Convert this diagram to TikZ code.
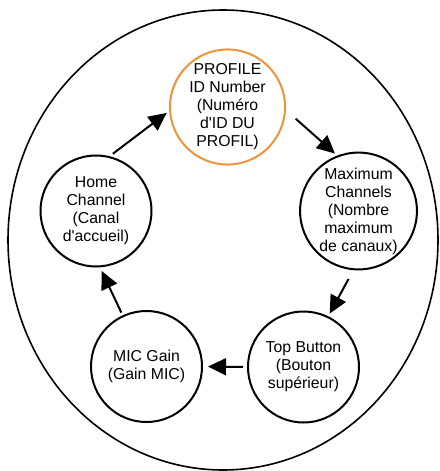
\documentclass[tikz,border=0pt]{standalone}
\usepackage{fontspec}
\setmainfont{Liberation Sans}
\usetikzlibrary{positioning, arrows.meta}
\definecolor{profileOrange}{HTML}{F0923A}

\begin{document}
\begin{tikzpicture}[
    x=1pt, y=-1pt,
    >={Triangle[length=18pt,width=17pt]},
    stage/.style={circle, draw=black, line width=2pt, minimum size=111pt, inner sep=0pt, align=center, font=\fontsize{15.8}{18}\selectfont},
    every edge/.style={draw=black, line width=2pt}
]
    \useasboundingbox (0,0) rectangle (439,471);
    \draw[line width=1.6pt] (223,240) ellipse [x radius=215, y radius=230];

    \node[stage, draw=profileOrange] (P) at (227.5,107) {PROFILE\\ID Number\\(Numéro\\d\textquotesingle ID DU\\PROFIL)};
    \node[stage] (MC) at (358.5,211) {Maximum\\Channels\\(Nombre\\maximum\\de canaux)};
    \node[stage] (TB) at (303.5,367) {Top Button\\(Bouton\\supérieur)};
    \node[stage] (MG) at (146.5,366.5) {MIC Gain\\(Gain MIC)};
    \node[stage] (HC) at (96,211) {Home\\Channel\\(Canal\\d\textquotesingle accueil)};

    % cycle of settings
    \path[->] (HC.76) edge[shorten <=4pt, shorten >=3pt] (P.184)
          (P.-3) edge[shorten <=13pt, shorten >=3pt] (MC.111)
          (MC.-95) edge[shorten <=10pt, shorten >=3pt] (TB.64)
          (TB.180) edge[shorten <=4pt, shorten >=5pt] (MG.0)
          (MG.115) edge[shorten <=3pt, shorten >=4pt] (HC.-86);
\end{tikzpicture}
\end{document}
